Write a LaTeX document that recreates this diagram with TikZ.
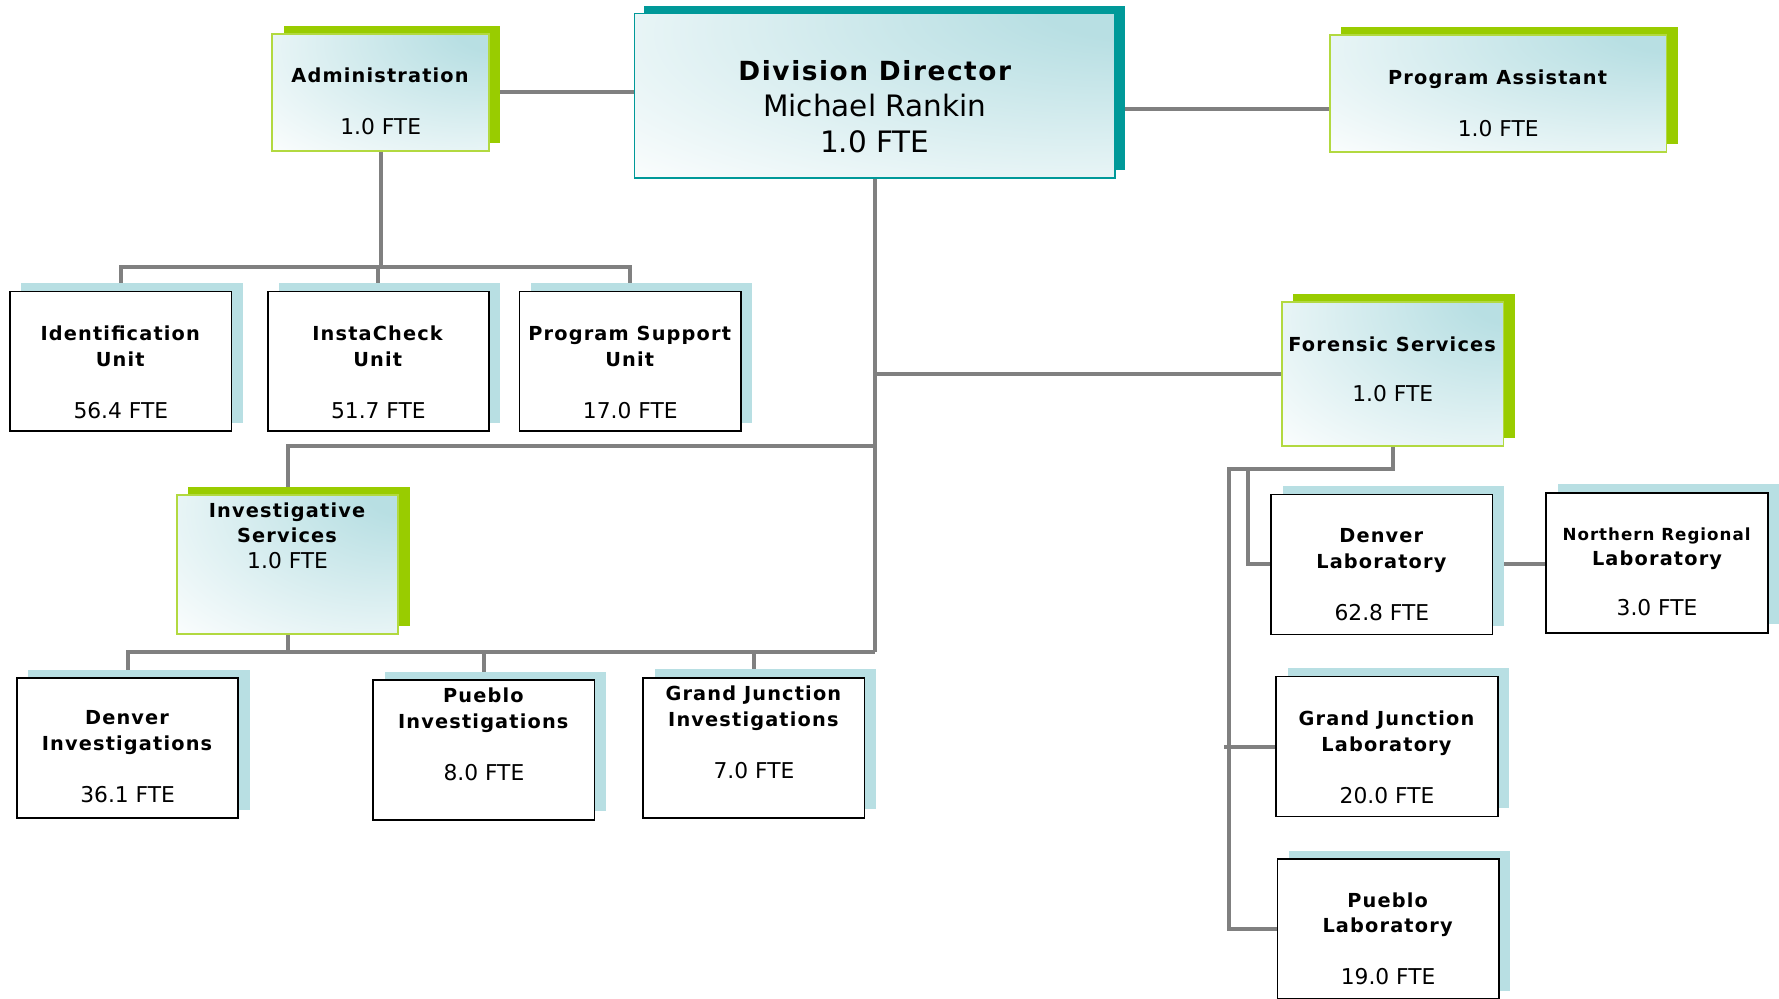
\documentclass[tikz,border=0pt]{standalone}
\usepackage{fontspec}
\setmainfont{DejaVu Sans}[BoldFeatures={LetterSpace=6}]
\usetikzlibrary{shadows, backgrounds}

\definecolor{divteal}{HTML}{009999}
\definecolor{divgreen}{HTML}{99CC00}
\definecolor{paleteal}{HTML}{B8DFE3}
\definecolor{linkgray}{HTML}{808080}

\pgfdeclareradialshading{cornerfade}{\pgfpoint{30bp}{30bp}}
  {color(0bp)=(paleteal); color(10bp)=(paleteal); color(60bp)=(white); color(115bp)=(white)}

\newcommand{\fte}[1]{{\fontsize{12.4}{14.6}\selectfont #1 FTE}}

\tikzset{
  textdrop/.style={text height=#1, text depth=0pt},
  unitbox/.style={draw=black, line width=1pt, fill=white, align=center,
    minimum width=4.43cm, minimum height=2.8cm, inner sep=0pt, textdrop=64pt,
    font=\fontsize{11}{14.6}\selectfont,
    drop shadow={shadow xshift=0.227cm, shadow yshift=0.17cm, fill=paleteal, opacity=1}},
  headbox/.style={draw=divgreen!75, line width=1pt, shade, shading=cornerfade, align=center,
    inner sep=0pt, font=\fontsize{11}{14.6}\selectfont,
    drop shadow={shadow xshift=0.227cm, shadow yshift=0.16cm, fill=divgreen, opacity=1}},
  dirbox/.style={draw=divteal, line width=0.8pt, shade, shading=cornerfade, align=center,
    inner sep=0pt, font=\fontsize{16.8}{20.6}\selectfont,
    drop shadow={shadow xshift=0.2cm, shadow yshift=0.16cm, fill=divteal, opacity=1}},
  link/.style={draw=linkgray, line width=2.3pt}
}

\begin{document}
\begin{tikzpicture}[x=0.0227cm, y=-0.0227cm]
\useasboundingbox (0,0) rectangle (1568,880);

% top row
\node (dir) at (771,84.5) [dirbox, minimum width=9.62cm, minimum height=3.29cm, textdrop=64.5pt]
{{\fontsize{15}{20.6}\selectfont\bfseries Division Director}\\Michael Rankin\\1.0 FTE};
\node (admin) at (335.5,81.5) [headbox, minimum width=4.34cm, minimum height=2.34cm, textdrop=48.4pt]
{\textbf{Administration}\\[15pt]\fte{1.0}};
\node (pa) at (1320.5,82.5) [headbox, minimum width=6.74cm, minimum height=2.34cm, textdrop=48.4pt]
{\textbf{Program Assistant}\\[15pt]\fte{1.0}};

% administration units
\node (idu) at (106.5,318.5) [unitbox, textdrop=65.2pt] {\textbf{Identification}\\\textbf{Unit}\\[15pt]\fte{56.4}};
\node (icu) at (333.5,318.5) [unitbox, textdrop=65.2pt] {\textbf{InstaCheck}\\\textbf{Unit}\\[15pt]\fte{51.7}};
\node (psu) at (555.5,318.5) [unitbox, textdrop=65.2pt] {\textbf{Program Support}\\\textbf{Unit}\\[15pt]\fte{17.0}};

% investigative services
\node (invs) at (253.5,497.5) [headbox, minimum width=4.43cm, minimum height=2.79cm, textdrop=4.5pt]
{\textbf{Investigative}\\\textbf{Services}\\\fte{1.0}};
\node (dinv) at (112.5,659.5) [unitbox, textdrop=61.3pt] {\textbf{Denver}\\\textbf{Investigations}\\[15pt]\fte{36.1}};
\node (pinv) at (426.5,661) [unitbox, textdrop=34.8pt] {\textbf{Pueblo}\\\textbf{Investigations}\\[15pt]\fte{8.0}};
\node (gjinv) at (664.5,659) [unitbox, textdrop=34.8pt] {\textbf{Grand Junction}\\\textbf{Investigations}\\[15pt]\fte{7.0}};

% forensic services
\node (forensic) at (1227.5,329.5) [headbox, minimum width=4.43cm, minimum height=2.88cm, textdrop=31.6pt]
{\textbf{Forensic Services}\\[14pt]\fte{1.0}};
\node (dlab) at (1218,497.5) [unitbox, textdrop=63.9pt] {\textbf{Denver}\\\textbf{Laboratory}\\[15pt]\fte{62.8}};
\node (nrl) at (1460.5,496) [unitbox, textdrop=60.6pt, font=\fontsize{9.5}{14}\selectfont] {\textbf{Northern Regional}\\{\fontsize{11}{14}\selectfont\bfseries Laboratory}\\[15pt]\fte{3.0}};
\node (gjlab) at (1222.5,658) [unitbox, textdrop=64.5pt] {\textbf{Grand Junction}\\\textbf{Laboratory}\\[15pt]\fte{20.0}};
\node (plab) at (1223.5,819) [unitbox, textdrop=63.2pt] {\textbf{Pueblo}\\\textbf{Laboratory}\\[15pt]\fte{19.0}};

% connectors
\begin{scope}[on background layer]
\draw[link] (admin.east) -- (admin.east -| dir.west);
\draw[link] (dir.east |- 0,96) -- (pa.west |- 0,96);
\draw[link] (admin.south) -- (admin.south |- 0,235);
\draw[link] (idu.north) |- (psu.north |- 0,235) -- (psu.north);
\draw[link] (icu.north) -- (icu.north |- 0,235);
\draw[link] (dir.south) -- (dir.south |- 0,575);
\draw[link] (dir.south |- forensic.west) -- (forensic.west);
\draw[link] (dir.south |- 0,393) -| (invs.north);
\draw[link] (invs.south) -- (invs.south |- 0,575);
\draw[link] (dinv.north) |- (dir.south |- 0,575);
\draw[link] (pinv.north) -- (pinv.north |- 0,575);
\draw[link] (gjinv.north) -- (gjinv.north |- 0,575);
\coordinate (labbus) at (1083,413);
\draw[link] (forensic.south) |- (1100,413) |- (dlab.west);
\draw[link] (forensic.south |- labbus) -- (labbus) |- (plab.west);
\draw[link] (gjlab.west) -- (gjlab.west -| 1079,0);
\draw[link] (dlab.east) -- (dlab.east -| nrl.west);
\end{scope}

\end{tikzpicture}
\end{document}
